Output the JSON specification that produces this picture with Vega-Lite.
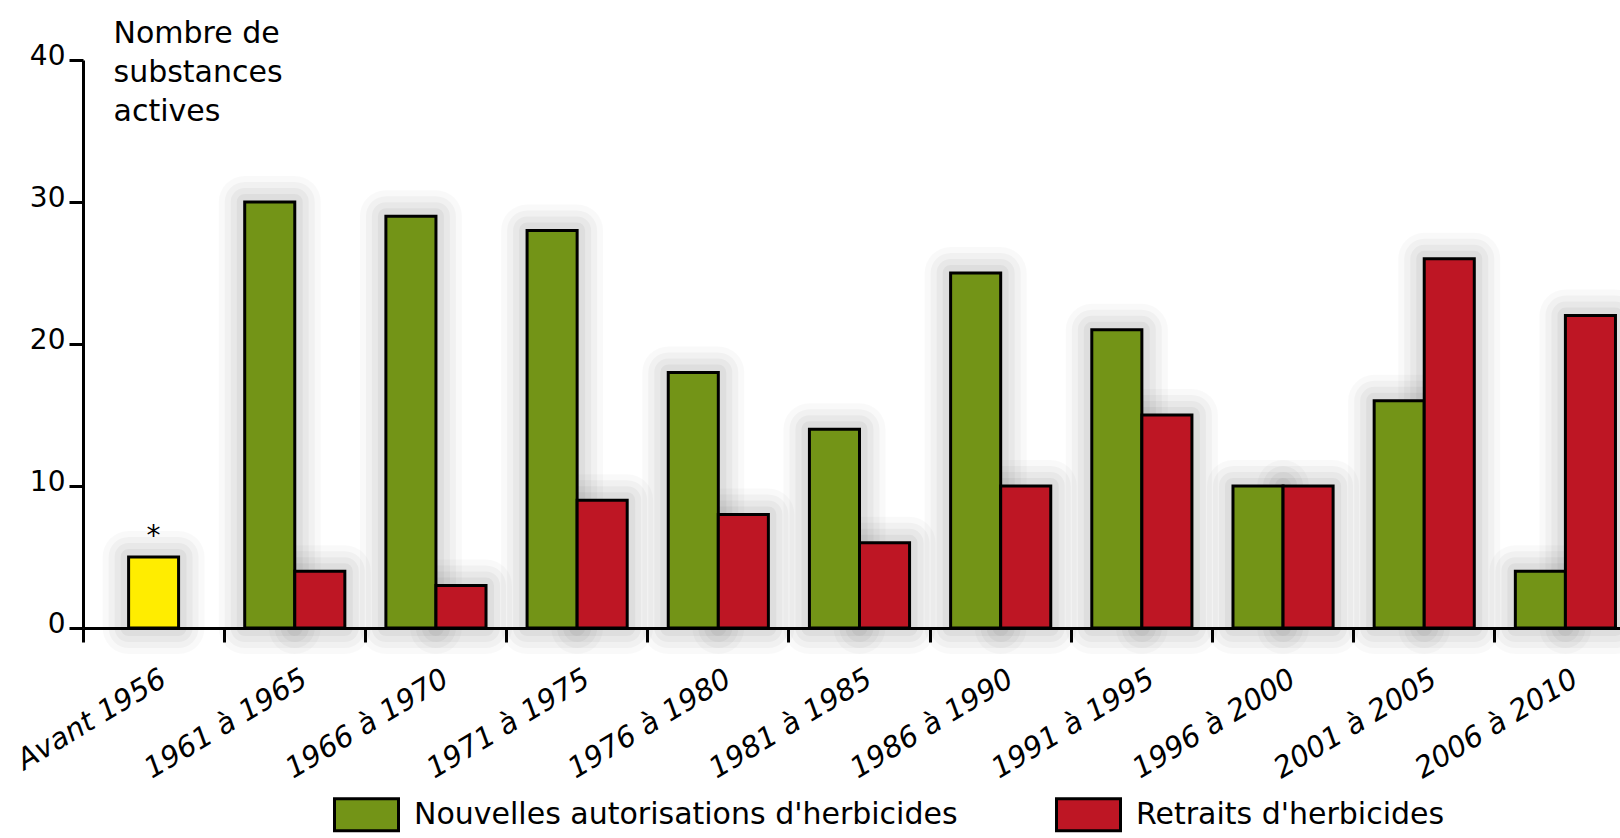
{
  "$schema": "https://vega.github.io/schema/vega-lite/v6.json",
  "width": 1537,
  "height": 568,
  "autosize": {"type": "none"},
  "padding": {"left": 83, "top": 60, "right": 0, "bottom": 210},
  "background": "white",
  "config": {"font": "DejaVu Sans", "view": {"stroke": null}},
  "data": {"values": [
    {"periode": "Avant 1956", "serie": "Avant 1956", "valeur": 5},
    {"periode": "1961 à 1965", "serie": "Nouvelles autorisations d'herbicides", "valeur": 30},
    {"periode": "1961 à 1965", "serie": "Retraits d'herbicides", "valeur": 4},
    {"periode": "1966 à 1970", "serie": "Nouvelles autorisations d'herbicides", "valeur": 29},
    {"periode": "1966 à 1970", "serie": "Retraits d'herbicides", "valeur": 3},
    {"periode": "1971 à 1975", "serie": "Nouvelles autorisations d'herbicides", "valeur": 28},
    {"periode": "1971 à 1975", "serie": "Retraits d'herbicides", "valeur": 9},
    {"periode": "1976 à 1980", "serie": "Nouvelles autorisations d'herbicides", "valeur": 18},
    {"periode": "1976 à 1980", "serie": "Retraits d'herbicides", "valeur": 8},
    {"periode": "1981 à 1985", "serie": "Nouvelles autorisations d'herbicides", "valeur": 14},
    {"periode": "1981 à 1985", "serie": "Retraits d'herbicides", "valeur": 6},
    {"periode": "1986 à 1990", "serie": "Nouvelles autorisations d'herbicides", "valeur": 25},
    {"periode": "1986 à 1990", "serie": "Retraits d'herbicides", "valeur": 10},
    {"periode": "1991 à 1995", "serie": "Nouvelles autorisations d'herbicides", "valeur": 21},
    {"periode": "1991 à 1995", "serie": "Retraits d'herbicides", "valeur": 15},
    {"periode": "1996 à 2000", "serie": "Nouvelles autorisations d'herbicides", "valeur": 10},
    {"periode": "1996 à 2000", "serie": "Retraits d'herbicides", "valeur": 10},
    {"periode": "2001 à 2005", "serie": "Nouvelles autorisations d'herbicides", "valeur": 16},
    {"periode": "2001 à 2005", "serie": "Retraits d'herbicides", "valeur": 26},
    {"periode": "2006 à 2010", "serie": "Nouvelles autorisations d'herbicides", "valeur": 4},
    {"periode": "2006 à 2010", "serie": "Retraits d'herbicides", "valeur": 22}
  ]},
  "encoding": {
    "x": {
      "field": "periode", "type": "nominal",
      "sort": ["Avant 1956", "1961 à 1965", "1966 à 1970", "1971 à 1975", "1976 à 1980", "1981 à 1985", "1986 à 1990", "1991 à 1995", "1996 à 2000", "2001 à 2005", "2006 à 2010"],
      "scale": {"range": [0, 1553], "paddingInner": 0, "paddingOuter": 0},
      "axis": {
        "title": null, "zindex": 1,
        "domainColor": "black", "domainWidth": 3,
        "tickColor": "black", "tickWidth": 3, "tickSize": 14, "bandPosition": 0,
        "labelAngle": -31, "labelAlign": "right", "labelBaseline": "middle",
        "labelPadding": 34, "labelOffset": 10, "labelFontSize": 29, "labelFontStyle": "italic",
        "labelColor": "black", "labelOverlap": false, "labelLimit": 0
      }
    },
    "y": {
      "field": "valeur", "type": "quantitative",
      "scale": {"domain": [0, 40], "nice": false},
      "axis": {
        "values": [0, 10, 20, 30, 40], "grid": false, "zindex": 1,
        "domainColor": "black", "domainWidth": 3,
        "tickColor": "black", "tickWidth": 3, "tickSize": 14,
        "labelFontSize": 28, "labelColor": "black", "labelPadding": 4,
        "labelBaseline": "middle", "labelOffset": -4,
        "title": ["Nombre de", "substances", "actives"],
        "titleAngle": 0, "titleAlign": "left", "titleBaseline": "alphabetic",
        "titleX": 30, "titleY": -18, "titleFontSize": 30, "titleFontWeight": "normal",
        "titleLineHeight": 39, "titleColor": "black"
      }
    }
  },
  "layer": [
    {
      "transform": [{"filter": "datum.serie !== 'Avant 1956'"}],
      "mark": {"type": "bar", "fill": "#000", "fillOpacity": 0, "stroke": "#000", "strokeOpacity": 0.025, "strokeWidth": 52, "strokeJoin": "round"},
      "encoding": {"xOffset": {"field": "serie", "scale": {"paddingOuter": 0.41, "paddingInner": 0}}}
    },
    {
      "transform": [{"filter": "datum.serie !== 'Avant 1956'"}],
      "mark": {"type": "bar", "fill": "#000", "fillOpacity": 0, "stroke": "#000", "strokeOpacity": 0.03, "strokeWidth": 40, "strokeJoin": "round"},
      "encoding": {"xOffset": {"field": "serie", "scale": {"paddingOuter": 0.41, "paddingInner": 0}}}
    },
    {
      "transform": [{"filter": "datum.serie !== 'Avant 1956'"}],
      "mark": {"type": "bar", "fill": "#000", "fillOpacity": 0, "stroke": "#000", "strokeOpacity": 0.035, "strokeWidth": 28, "strokeJoin": "round"},
      "encoding": {"xOffset": {"field": "serie", "scale": {"paddingOuter": 0.41, "paddingInner": 0}}}
    },
    {
      "transform": [{"filter": "datum.serie !== 'Avant 1956'"}],
      "mark": {"type": "bar", "fill": "#000", "fillOpacity": 0, "stroke": "#000", "strokeOpacity": 0.04, "strokeWidth": 16, "strokeJoin": "round"},
      "encoding": {"xOffset": {"field": "serie", "scale": {"paddingOuter": 0.41, "paddingInner": 0}}}
    },
    {
      "transform": [{"filter": "datum.serie === 'Avant 1956'"}],
      "mark": {"type": "bar", "width": {"band": 0.354}, "fill": "#000", "fillOpacity": 0, "stroke": "#000", "strokeOpacity": 0.025, "strokeWidth": 52, "strokeJoin": "round"}
    },
    {
      "transform": [{"filter": "datum.serie === 'Avant 1956'"}],
      "mark": {"type": "bar", "width": {"band": 0.354}, "fill": "#000", "fillOpacity": 0, "stroke": "#000", "strokeOpacity": 0.03, "strokeWidth": 40, "strokeJoin": "round"}
    },
    {
      "transform": [{"filter": "datum.serie === 'Avant 1956'"}],
      "mark": {"type": "bar", "width": {"band": 0.354}, "fill": "#000", "fillOpacity": 0, "stroke": "#000", "strokeOpacity": 0.035, "strokeWidth": 28, "strokeJoin": "round"}
    },
    {
      "transform": [{"filter": "datum.serie === 'Avant 1956'"}],
      "mark": {"type": "bar", "width": {"band": 0.354}, "fill": "#000", "fillOpacity": 0, "stroke": "#000", "strokeOpacity": 0.04, "strokeWidth": 16, "strokeJoin": "round"}
    },
    {
      "transform": [{"filter": "datum.serie !== 'Avant 1956'"}],
      "mark": {"type": "bar", "stroke": "black", "strokeWidth": 3, "opacity": 1},
      "encoding": {
        "xOffset": {"field": "serie", "scale": {"paddingOuter": 0.41, "paddingInner": 0}},
        "color": {
          "field": "serie", "type": "nominal",
          "scale": {"domain": ["Nouvelles autorisations d'herbicides", "Retraits d'herbicides"], "range": ["#739417", "#be1624"]},
          "legend": {
            "orient": "none", "legendX": 250, "legendY": 721, "direction": "horizontal",
            "title": null, "symbolType": "M-1,-0.5H1V0.5H-1Z", "symbolSize": 4096,
            "symbolStrokeColor": "black", "symbolStrokeWidth": 3, "symbolOpacity": 1,
            "labelFont": "DejaVu Sans", "labelFontSize": 30, "labelOffset": 14,
            "columnPadding": 92, "labelLimit": 0, "labelColor": "black"
          }
        }
      }
    },
    {
      "transform": [{"filter": "datum.serie === 'Avant 1956'"}],
      "mark": {"type": "bar", "width": {"band": 0.354}, "fill": "#ffed00", "stroke": "black", "strokeWidth": 3}
    },
    {
      "transform": [{"filter": "datum.serie === 'Avant 1956'"}],
      "mark": {"type": "text", "text": "*", "fontSize": 28, "baseline": "alphabetic", "dy": -12, "color": "black"}
    }
  ]
}
